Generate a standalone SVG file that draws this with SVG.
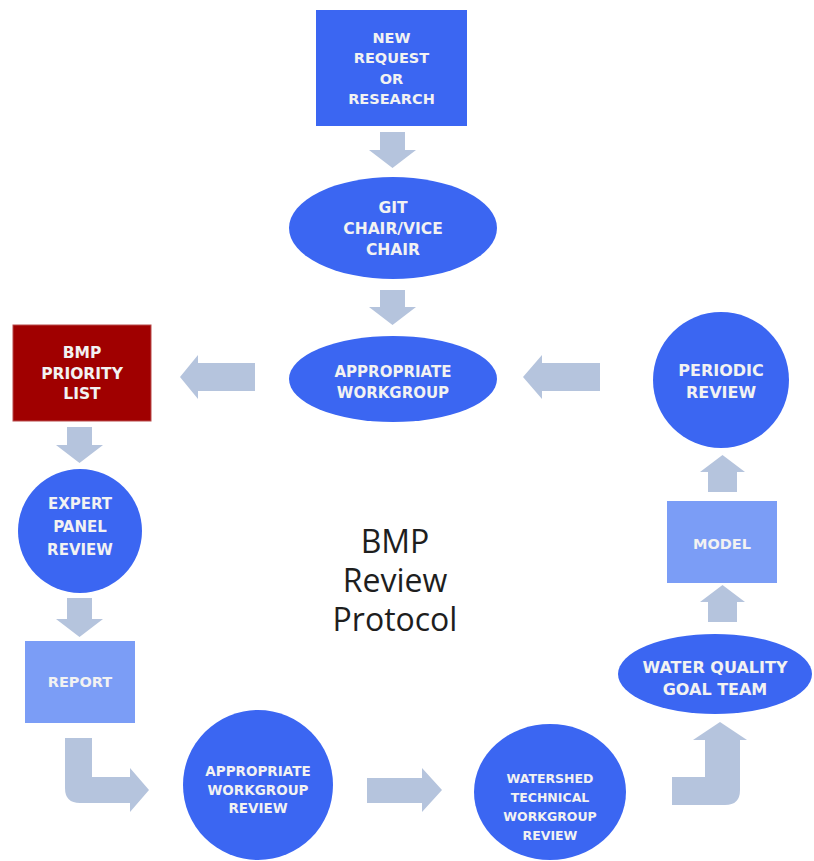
<svg xmlns="http://www.w3.org/2000/svg" width="814" height="861" viewBox="0 0 814 861">
<style>
.n{fill:#3B66F2}
.lt{fill:#7B9DF6}
.red{fill:#A00000;stroke:#B84A4A;stroke-width:1}
.t{font-family:"DejaVu Sans",Verdana,sans-serif;font-weight:bold;font-size:15px;fill:#F2F2F2;text-anchor:middle}
.ar{fill:#B5C4DD}
.title{font-family:"Open Sans","Noto Sans",sans-serif;font-size:32px;fill:#1E1E1E;text-anchor:middle}
</style>
<rect width="814" height="861" fill="#FFFFFF"/>
<g id="connectors">
<polygon class="ar" points="380,132 405,132 405,150 416,150 392.5,168 369,150 380,150"/>
<polygon class="ar" points="380,290 405,290 405,307 416,307 392.5,325 369,307 380,307"/>
<polygon class="ar" points="255,363 198,363 198,355 180,377 198,399 198,391 255,391"/>
<polygon class="ar" points="600,363 542,363 542,355 523,377 542,399 542,391 600,391"/>
<polygon class="ar" points="67,427 92,427 92,445 103,445 79.5,463 56,445 67,445"/>
<polygon class="ar" points="67,598 92,598 92,619 103,619 79.5,637 56,619 67,619"/>
<path class="ar" d="M65,738 H92 V777 H130 V768 L149,790 L130,812 V803 H80 Q65,803 65,788 Z"/>
<polygon class="ar" points="367,778 422,778 422,768 442,790 422,812 422,803 367,803"/>
<path class="ar" d="M672,777 H705 V740 H693 L720,722 L747,740 H740 V790 Q740,805 725,805 H672 Z"/>
<polygon class="ar" points="722.5,585 745,602 737,602 737,622 708,622 708,602 700,602"/>
<polygon class="ar" points="722.5,455 745,472 737,472 737,492 708,492 708,472 700,472"/>
</g>
<g id="new-request">
<rect class="n" x="316" y="10" width="151" height="116"/>
<text class="t" x="391.5" y="42.5" style="font-size:14.5px">NEW</text>
<text class="t" x="391.5" y="63" style="font-size:14.5px">REQUEST</text>
<text class="t" x="391.5" y="83.5" style="font-size:14.5px">OR</text>
<text class="t" x="391.5" y="104" style="font-size:14.5px">RESEARCH</text>
</g>
<g id="git-chair">
<ellipse class="n" cx="393" cy="228" rx="104" ry="51"/>
<text class="t" x="393" y="213" style="font-size:15.5px">GIT</text>
<text class="t" x="393" y="234" style="font-size:15.5px">CHAIR/VICE</text>
<text class="t" x="393" y="255" style="font-size:15.5px">CHAIR</text>
</g>
<g id="appropriate-workgroup">
<ellipse class="n" cx="393" cy="379" rx="104" ry="43"/>
<text class="t" x="393" y="377">APPROPRIATE</text>
<text class="t" x="393" y="398">WORKGROUP</text>
</g>
<g id="bmp-priority-list">
<rect class="red" x="13" y="325" width="138" height="96"/>
<text class="t" x="82" y="357.5" style="font-size:15.5px">BMP</text>
<text class="t" x="82" y="378.5" style="font-size:15.5px">PRIORITY</text>
<text class="t" x="82" y="399" style="font-size:15.5px">LIST</text>
</g>
<g id="periodic-review">
<circle class="n" cx="721" cy="380" r="68"/>
<text class="t" x="721" y="376" style="font-size:16px">PERIODIC</text>
<text class="t" x="721" y="398" style="font-size:16px">REVIEW</text>
</g>
<g id="expert-panel-review">
<circle class="n" cx="80" cy="531" r="62"/>
<text class="t" x="80" y="509">EXPERT</text>
<text class="t" x="80" y="532">PANEL</text>
<text class="t" x="80" y="555">REVIEW</text>
</g>
<g id="report">
<rect class="lt" x="25" y="641" width="110" height="82"/>
<text class="t" x="80" y="687" style="font-size:14.5px">REPORT</text>
</g>
<g id="appropriate-workgroup-review">
<circle class="n" cx="258" cy="785" r="75"/>
<text class="t" x="258" y="776" style="font-size:13.5px">APPROPRIATE</text>
<text class="t" x="258" y="794.5" style="font-size:13.5px">WORKGROUP</text>
<text class="t" x="258" y="813" style="font-size:13.5px">REVIEW</text>
</g>
<g id="watershed-technical-workgroup-review">
<ellipse class="n" cx="550" cy="792" rx="76" ry="68"/>
<text class="t" x="550" y="783" style="font-size:12.5px">WATERSHED</text>
<text class="t" x="550" y="802" style="font-size:12.5px">TECHNICAL</text>
<text class="t" x="550" y="821" style="font-size:12.5px">WORKGROUP</text>
<text class="t" x="550" y="840" style="font-size:12.5px">REVIEW</text>
</g>
<g id="water-quality-goal-team">
<ellipse class="n" cx="715" cy="674" rx="97" ry="40"/>
<text class="t" x="715" y="673" style="font-size:16px">WATER QUALITY</text>
<text class="t" x="715" y="695" style="font-size:16px">GOAL TEAM</text>
</g>
<g id="model">
<rect class="lt" x="667" y="501" width="110" height="82"/>
<text class="t" x="722" y="549" style="font-size:14.5px">MODEL</text>
</g>
<g id="title">
<text class="title" x="395" y="553">BMP</text>
<text class="title" x="395" y="592">Review</text>
<text class="title" x="395" y="631">Protocol</text>
</g>
</svg>
